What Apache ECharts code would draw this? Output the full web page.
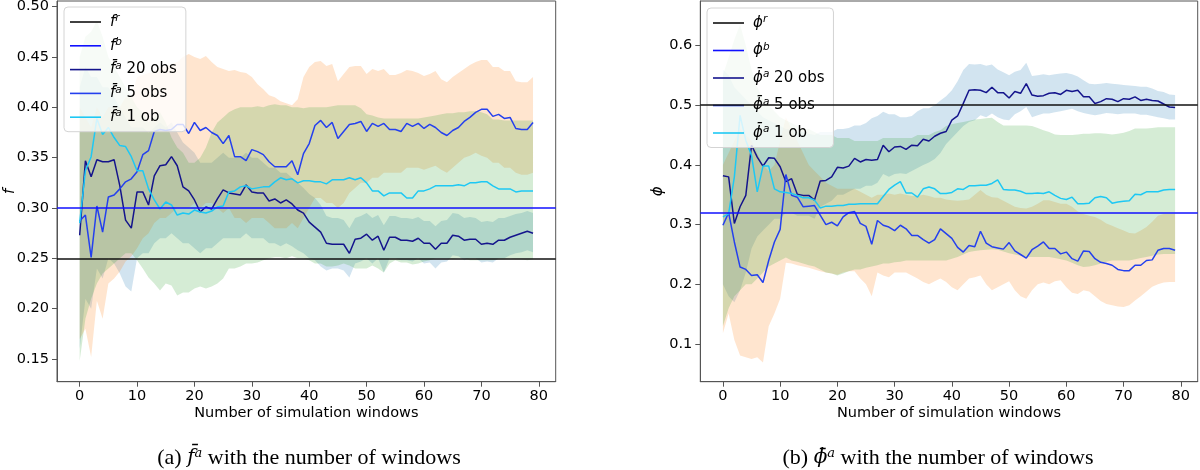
<!DOCTYPE html>
<html><head><meta charset="utf-8">
<script src="https://cdn.jsdelivr.net/npm/echarts@6/dist/echarts.min.js"></script>
<style>html,body{margin:0;padding:0;background:#fff}#c{width:1200px;height:470px}</style>
</head><body><div id="c"></div>
<script>
// ---------- tick labels ----------
const xTicks = [0, 10, 20, 30, 40, 50, 60, 70, 80];
const fTicks = [0.15, 0.20, 0.25, 0.30, 0.35, 0.40, 0.45, 0.50];
const phiTicks = [0.1, 0.2, 0.3, 0.4, 0.5, 0.6];

// ---------- reference values ----------
const fR = 0.25, fB = 0.296;
const phiR = 0.5, phiB = 0.317;

// ---------- panel (a): f ----------
const fA20 = [0.273,0.347,0.331,0.348,0.346,0.346,0.348,0.322,0.288,0.280,0.316,0.316,0.303,0.332,0.342,0.343,0.351,0.342,0.321,0.317,
0.308,0.296,0.301,0.299,0.309,0.318,0.315,0.314,0.313,0.323,0.316,0.315,0.315,0.307,0.309,0.305,0.308,0.304,0.298,0.295,
0.286,0.281,0.276,0.265,0.264,0.264,0.264,0.255,0.269,0.270,0.274,0.268,0.272,0.258,0.271,0.271,0.268,0.268,0.267,0.270,
0.265,0.265,0.259,0.265,0.265,0.273,0.272,0.268,0.269,0.269,0.264,0.265,0.264,0.268,0.268,0.271,0.273,0.275,0.277,0.275];
const fA5 = [0.287,0.293,0.251,0.302,0.276,0.311,0.313,0.319,0.326,0.329,0.336,0.353,0.357,0.376,0.378,0.377,0.378,0.383,0.383,0.374,
0.385,0.377,0.380,0.375,0.372,0.364,0.372,0.351,0.351,0.347,0.358,0.356,0.353,0.346,0.341,0.341,0.341,0.347,0.333,0.354,
0.364,0.382,0.387,0.380,0.385,0.369,0.376,0.383,0.384,0.386,0.376,0.384,0.381,0.384,0.378,0.378,0.376,0.384,0.381,0.384,
0.379,0.383,0.380,0.375,0.372,0.377,0.380,0.386,0.390,0.395,0.398,0.398,0.391,0.393,0.389,0.390,0.379,0.378,0.378,0.385];
const fA1 = [0.285,0.337,0.351,0.389,0.373,0.380,0.370,0.362,0.361,0.351,0.337,0.337,0.319,0.308,0.299,0.306,0.303,0.293,0.295,0.294,
0.298,0.296,0.295,0.297,0.301,0.302,0.316,0.317,0.321,0.322,0.319,0.320,0.321,0.321,0.326,0.330,0.328,0.329,0.325,0.327,
0.327,0.326,0.326,0.324,0.328,0.328,0.328,0.330,0.328,0.330,0.325,0.317,0.317,0.312,0.315,0.315,0.315,0.310,0.310,0.317,
0.317,0.319,0.322,0.322,0.322,0.322,0.323,0.322,0.325,0.325,0.326,0.326,0.322,0.319,0.319,0.319,0.316,0.317,0.317,0.317];
const fA20Hi = [0.42,0.44,0.43,0.43,0.42,0.42,0.41,0.40,0.39,0.38,0.38,0.38,0.375,0.38,0.385,0.38,0.385,0.375,0.365,0.36,
0.355,0.345,0.345,0.345,0.35,0.355,0.35,0.35,0.35,0.355,0.35,0.35,0.345,0.34,0.34,0.335,0.335,0.33,0.325,0.32,
0.314,0.31,0.303,0.292,0.29,0.29,0.288,0.28,0.29,0.292,0.295,0.29,0.293,0.283,0.292,0.292,0.29,0.29,0.289,0.291,
0.287,0.287,0.282,0.287,0.288,0.295,0.294,0.29,0.291,0.29,0.286,0.287,0.286,0.29,0.29,0.292,0.294,0.295,0.297,0.295];
const fA20Lo = [0.16,0.21,0.20,0.24,0.23,0.25,0.245,0.235,0.222,0.217,0.25,0.255,0.255,0.265,0.27,0.27,0.275,0.27,0.265,0.265,
0.26,0.255,0.26,0.26,0.265,0.27,0.27,0.27,0.27,0.275,0.27,0.27,0.27,0.265,0.265,0.262,0.265,0.262,0.258,0.255,
0.25,0.248,0.242,0.238,0.24,0.24,0.238,0.231,0.245,0.247,0.25,0.245,0.25,0.236,0.25,0.25,0.248,0.248,0.247,0.25,
0.245,0.246,0.24,0.246,0.247,0.253,0.252,0.248,0.25,0.25,0.246,0.247,0.246,0.25,0.25,0.253,0.255,0.256,0.258,0.256];
const fA5Hi = [0.40,0.39,0.38,0.40,0.39,0.40,0.40,0.40,0.41,0.41,0.43,0.432,0.434,0.436,0.44,0.44,0.443,0.445,0.45,0.453,
0.45,0.448,0.451,0.445,0.44,0.438,0.436,0.437,0.435,0.434,0.43,0.423,0.418,0.412,0.41,0.406,0.404,0.402,0.408,0.43,
0.44,0.445,0.446,0.441,0.443,0.426,0.433,0.44,0.441,0.441,0.433,0.438,0.436,0.438,0.432,0.432,0.434,0.437,0.436,0.434,
0.431,0.433,0.436,0.428,0.425,0.43,0.434,0.438,0.442,0.445,0.447,0.447,0.44,0.44,0.436,0.436,0.426,0.425,0.425,0.43];
const fA5Lo = [0.17,0.18,0.152,0.208,0.19,0.225,0.23,0.237,0.247,0.252,0.26,0.27,0.275,0.285,0.29,0.29,0.295,0.30,0.30,0.30,
0.305,0.30,0.305,0.305,0.30,0.295,0.30,0.29,0.29,0.285,0.29,0.29,0.29,0.285,0.28,0.28,0.28,0.285,0.28,0.29,
0.30,0.31,0.31,0.305,0.305,0.30,0.305,0.315,0.32,0.325,0.325,0.33,0.33,0.335,0.335,0.335,0.335,0.34,0.34,0.34,
0.338,0.34,0.342,0.338,0.335,0.34,0.345,0.35,0.352,0.355,0.352,0.35,0.345,0.345,0.34,0.34,0.335,0.333,0.333,0.335];
const fA1Hi = [0.45,0.47,0.475,0.486,0.47,0.45,0.44,0.43,0.42,0.41,0.40,0.395,0.385,0.39,0.395,0.385,0.37,0.36,0.355,0.345,
0.345,0.35,0.36,0.375,0.385,0.39,0.395,0.398,0.40,0.40,0.40,0.401,0.40,0.402,0.403,0.402,0.402,0.40,0.40,0.399,
0.40,0.40,0.40,0.40,0.401,0.402,0.402,0.402,0.402,0.399,0.393,0.392,0.39,0.389,0.389,0.389,0.389,0.389,0.389,0.389,
0.39,0.391,0.392,0.393,0.394,0.394,0.395,0.395,0.396,0.396,0.395,0.393,0.388,0.388,0.387,0.387,0.387,0.387,0.387,0.387];
const fA1Lo = [0.148,0.19,0.21,0.225,0.235,0.24,0.245,0.25,0.255,0.255,0.248,0.24,0.231,0.225,0.218,0.225,0.223,0.213,0.216,0.216,
0.22,0.222,0.22,0.222,0.225,0.23,0.24,0.24,0.242,0.245,0.245,0.246,0.248,0.25,0.251,0.251,0.25,0.252,0.25,0.25,
0.248,0.245,0.245,0.242,0.242,0.243,0.245,0.243,0.24,0.24,0.24,0.243,0.24,0.236,0.245,0.248,0.246,0.246,0.244,0.245,
0.247,0.248,0.25,0.25,0.25,0.249,0.25,0.25,0.248,0.248,0.248,0.248,0.248,0.249,0.249,0.25,0.249,0.249,0.248,0.249];

// ---------- panel (b): phi ----------
const pA20 = [0.382,0.380,0.302,0.330,0.349,0.433,0.413,0.398,0.412,0.411,0.397,0.372,0.377,0.351,0.349,0.349,0.341,0.373,0.374,0.380,
0.396,0.395,0.398,0.411,0.405,0.409,0.408,0.409,0.433,0.422,0.430,0.431,0.426,0.433,0.432,0.443,0.440,0.448,0.453,0.456,
0.475,0.482,0.503,0.525,0.526,0.525,0.521,0.530,0.521,0.521,0.512,0.523,0.520,0.536,0.517,0.515,0.516,0.520,0.521,0.518,
0.525,0.523,0.525,0.514,0.514,0.503,0.506,0.511,0.510,0.506,0.511,0.510,0.514,0.508,0.510,0.508,0.507,0.502,0.497,0.496];
const pA5 = [0.299,0.320,0.271,0.229,0.225,0.215,0.216,0.203,0.240,0.271,0.292,0.384,0.349,0.346,0.330,0.331,0.332,0.316,0.300,0.304,
0.298,0.313,0.320,0.322,0.302,0.297,0.267,0.307,0.299,0.296,0.290,0.299,0.293,0.282,0.282,0.275,0.269,0.275,0.293,0.285,
0.277,0.262,0.254,0.265,0.263,0.289,0.269,0.263,0.261,0.259,0.270,0.256,0.250,0.244,0.258,0.264,0.271,0.260,0.260,0.251,
0.254,0.243,0.239,0.256,0.255,0.243,0.237,0.235,0.232,0.225,0.223,0.223,0.232,0.232,0.240,0.241,0.257,0.260,0.260,0.257];
const pA1 = [0.313,0.318,0.380,0.483,0.441,0.416,0.355,0.398,0.398,0.360,0.355,0.354,0.352,0.349,0.345,0.345,0.341,0.328,0.331,0.331,
0.332,0.332,0.334,0.334,0.335,0.335,0.335,0.335,0.347,0.359,0.366,0.372,0.353,0.353,0.346,0.360,0.363,0.360,0.352,0.352,
0.354,0.360,0.359,0.365,0.365,0.366,0.366,0.369,0.375,0.359,0.358,0.358,0.356,0.352,0.352,0.353,0.352,0.355,0.349,0.344,
0.342,0.346,0.335,0.335,0.336,0.345,0.347,0.345,0.336,0.338,0.339,0.340,0.351,0.350,0.355,0.355,0.355,0.358,0.359,0.359];
const pA20Hi = [0.56,0.55,0.53,0.52,0.51,0.50,0.49,0.48,0.475,0.47,0.465,0.46,0.46,0.455,0.455,0.452,0.45,0.455,0.455,0.455,
0.46,0.46,0.462,0.466,0.466,0.47,0.478,0.482,0.489,0.485,0.485,0.48,0.48,0.482,0.49,0.495,0.495,0.50,0.508,0.515,
0.525,0.54,0.559,0.569,0.568,0.569,0.566,0.568,0.56,0.555,0.55,0.556,0.559,0.571,0.549,0.55,0.552,0.55,0.552,0.553,
0.554,0.552,0.548,0.542,0.536,0.535,0.536,0.537,0.536,0.535,0.534,0.533,0.532,0.531,0.531,0.528,0.524,0.522,0.518,0.517];
const pA20Lo = [0.20,0.18,0.17,0.19,0.22,0.26,0.28,0.29,0.30,0.31,0.31,0.32,0.32,0.315,0.315,0.315,0.31,0.33,0.335,0.34,
0.35,0.35,0.355,0.36,0.36,0.365,0.365,0.37,0.385,0.38,0.385,0.386,0.385,0.39,0.395,0.40,0.404,0.41,0.42,0.435,
0.445,0.455,0.465,0.472,0.475,0.483,0.48,0.486,0.48,0.476,0.475,0.485,0.49,0.497,0.48,0.483,0.486,0.486,0.488,0.49,
0.492,0.494,0.49,0.487,0.485,0.483,0.485,0.487,0.486,0.485,0.486,0.486,0.486,0.484,0.484,0.482,0.48,0.478,0.476,0.476];
const pA5Hi = [0.40,0.42,0.44,0.46,0.45,0.44,0.42,0.40,0.39,0.40,0.44,0.48,0.46,0.44,0.42,0.40,0.39,0.38,0.37,0.365,
0.36,0.36,0.36,0.36,0.355,0.35,0.345,0.35,0.35,0.352,0.35,0.352,0.35,0.348,0.348,0.35,0.348,0.345,0.345,0.342,
0.341,0.34,0.341,0.342,0.35,0.358,0.35,0.346,0.345,0.34,0.335,0.33,0.328,0.327,0.33,0.335,0.341,0.341,0.338,0.335,
0.335,0.33,0.322,0.318,0.315,0.313,0.308,0.302,0.298,0.294,0.29,0.286,0.285,0.29,0.296,0.305,0.315,0.318,0.318,0.318];
const pA5Lo = [0.118,0.151,0.107,0.081,0.078,0.075,0.078,0.069,0.13,0.151,0.176,0.236,0.235,0.232,0.23,0.228,0.225,0.222,0.22,0.218,
0.216,0.22,0.222,0.222,0.21,0.20,0.18,0.22,0.215,0.212,0.22,0.22,0.22,0.215,0.21,0.204,0.20,0.205,0.21,0.204,
0.195,0.19,0.20,0.21,0.212,0.215,0.20,0.19,0.195,0.20,0.205,0.19,0.18,0.176,0.19,0.20,0.203,0.20,0.205,0.207,
0.195,0.186,0.184,0.19,0.188,0.18,0.172,0.167,0.165,0.163,0.162,0.165,0.173,0.18,0.188,0.196,0.20,0.203,0.204,0.204];
const pA1Hi = [0.55,0.58,0.61,0.635,0.60,0.56,0.53,0.51,0.50,0.49,0.48,0.475,0.47,0.465,0.46,0.46,0.455,0.45,0.45,0.45,
0.445,0.445,0.445,0.44,0.44,0.44,0.44,0.44,0.445,0.445,0.445,0.445,0.445,0.445,0.45,0.45,0.45,0.455,0.458,0.465,
0.468,0.47,0.472,0.474,0.476,0.477,0.478,0.479,0.472,0.466,0.466,0.466,0.466,0.466,0.465,0.462,0.458,0.455,0.451,0.45,
0.45,0.45,0.451,0.452,0.452,0.453,0.453,0.452,0.451,0.452,0.454,0.457,0.461,0.461,0.461,0.462,0.463,0.463,0.463,0.463];
const pA1Lo = [0.13,0.16,0.18,0.19,0.20,0.20,0.21,0.22,0.23,0.235,0.24,0.245,0.24,0.238,0.235,0.232,0.23,0.225,0.22,0.218,
0.215,0.218,0.222,0.225,0.225,0.228,0.23,0.232,0.235,0.235,0.237,0.238,0.24,0.24,0.24,0.24,0.24,0.24,0.24,0.24,
0.243,0.246,0.25,0.254,0.256,0.257,0.258,0.259,0.258,0.255,0.252,0.25,0.248,0.246,0.246,0.246,0.246,0.246,0.244,0.242,
0.24,0.236,0.232,0.229,0.23,0.232,0.235,0.238,0.24,0.24,0.24,0.24,0.242,0.244,0.246,0.248,0.25,0.251,0.251,0.251];

// ---------- styles ----------
const C = {r:'#111111', b:'#1010ff', a20:'#14148c', a5:'#2440ee', a1:'#1ec8f4'};
const BAND = {c0:'rgba(31,119,180,0.2)', c1:'rgba(255,127,14,0.2)', c2:'rgba(44,160,44,0.2)'};
const FONT = 'DejaVu Sans';
const AXC = '#555';

function pairs(arr){ return arr.map((v,i)=>[i,v]); }
function band(g, lo, hi, color){
  return {type:'custom', xAxisIndex:g, yAxisIndex:g, silent:true, clip:true, z:1, data:[0],
    renderItem:function(params, api){
      const pts=[];
      for(let i=0;i<hi.length;i++) pts.push(api.coord([i,hi[i]]));
      for(let i=lo.length-1;i>=0;i--) pts.push(api.coord([i,lo[i]]));
      return {type:'polygon', shape:{points:pts}, style:{fill:color}};
    }};
}
function line(g, name, arr, color){
  return {type:'line', name:name, xAxisIndex:g, yAxisIndex:g, data:pairs(arr), symbol:'none', z:3,
    color:color, lineStyle:{color:color, width:1.5}};
}
function hline(g, name, val, color){
  return {type:'line', name:name, xAxisIndex:g, yAxisIndex:g, data:[], symbol:'none', z:4,
    color:color, lineStyle:{color:color, width:1.5},
    markLine:{symbol:'none', silent:true, label:{show:false}, animation:false,
      lineStyle:{color:color, width:1.5, type:'solid'}, data:[{yAxis:val}]}};
}
function xAx(g){
  return {type:'value', gridIndex:g, min:-3.95, max:82.95,
    name:'Number of simulation windows', nameLocation:'middle', nameGap:24, nameMoveOverlap:false,
    nameTextStyle:{fontFamily:FONT, fontSize:14.5, color:'#000'},
    axisLine:{onZero:false, lineStyle:{color:AXC, width:1}},
    axisTick:{customValues:xTicks, length:5, lineStyle:{color:AXC}},
    axisLabel:{customValues:xTicks, fontFamily:FONT, fontSize:14.5, color:'#000', margin:7},
    splitLine:{show:false}};
}
function yAx(g, min, max, ticks, dec, name, gap){
  return {type:'value', gridIndex:g, min:min, max:max,
    name:name, nameLocation:'middle', nameGap:gap, nameRotate:90, nameMoveOverlap:false,
    nameTextStyle:{fontFamily:FONT, fontSize:15, fontStyle:'italic', color:'#000'},
    axisLine:{show:true, onZero:false, lineStyle:{color:AXC, width:1}},
    axisTick:{show:true, customValues:ticks, length:5, lineStyle:{color:AXC}},
    axisLabel:{customValues:ticks, fontFamily:FONT, fontSize:14.5, color:'#000', margin:8,
      formatter:v=>Number(v).toFixed(dec)},
    splitLine:{show:false}};
}
const rich = {
  i:{fontFamily:FONT, fontStyle:'italic', fontSize:15, color:'#000', lineHeight:18},
  s:{fontFamily:FONT, fontStyle:'italic', fontSize:10.5, color:'#000', verticalAlign:'top', lineHeight:10},
  t:{fontFamily:FONT, fontSize:15, color:'#000', lineHeight:18}
};
const LAB = {
  fr:'{i|f}{s|r}', fb:'{i|f}{s|b}', fa20:'{i|f\u0304}{s|a}{t| 20 obs}', fa5:'{i|f\u0304}{s|a}{t| 5 obs}', fa1:'{i|f\u0304}{s|a}{t| 1 ob}',
  pr:'{i|\u03d5}{s|r}', pb:'{i|\u03d5}{s|b}', pa20:'{i|\u03d5\u0304}{s|a}{t| 20 obs}', pa5:'{i|\u03d5\u0304}{s|a}{t| 5 obs}', pa1:'{i|\u03d5\u0304}{s|a}{t| 1 ob}'
};
function legend(left, top, names, gap){
  return {orient:'vertical', left:left, top:top, data:names, icon:'rect', itemWidth:31, itemHeight:1.6, itemGap:gap,
    backgroundColor:'rgba(255,255,255,0.8)', borderColor:'#d4d4d4', borderWidth:1, borderRadius:4,
    padding:[6,9,7,6], formatter:n=>LAB[n], textStyle:{rich:rich, padding:[0,0,0,4]}, selectedMode:false};
}
const capRich = {
  n:{fontFamily:'Liberation Serif', fontSize:22, color:'#000'},
  i:{fontFamily:'DejaVu Serif', fontStyle:'italic', fontSize:20, color:'#000'},
  s:{fontFamily:'DejaVu Serif', fontStyle:'italic', fontSize:13, color:'#000', verticalAlign:'top', lineHeight:12}
};

const chart = echarts.init(document.getElementById('c'), null, {renderer:'canvas'});
chart.setOption({
  animation:false,
  backgroundColor:'#fff',
  grid:[
    {left:57, top:1, width:498.7, height:380.7, show:true, borderColor:AXC, borderWidth:1, backgroundColor:'transparent', containLabel:false, outerBoundsMode:'none'},
    {left:700.3, top:1, width:497.4, height:380.7, show:true, borderColor:AXC, borderWidth:1, backgroundColor:'transparent', containLabel:false, outerBoundsMode:'none'}
  ],
  xAxis:[xAx(0), xAx(1)],
  yAxis:[yAx(0, 0.1275, 0.5056, fTicks, 2, 'f', 39), yAx(1, 0.037, 0.6745, phiTicks, 1, '\u03d5', 35)],
  legend:[legend(64, 7, ['fr','fb','fa20','fa5','fa1'], 7.3), legend(707, 8, ['pr','pb','pa20','pa5','pa1'], 11)],
  series:[
    band(0, fA20Lo, fA20Hi, BAND.c0), band(0, fA5Lo, fA5Hi, BAND.c1), band(0, fA1Lo, fA1Hi, BAND.c2),
    hline(0,'fr',fR,C.r), hline(0,'fb',fB,C.b),
    line(0,'fa20',fA20,C.a20), line(0,'fa5',fA5,C.a5), line(0,'fa1',fA1,C.a1),
    band(1, pA20Lo, pA20Hi, BAND.c0), band(1, pA5Lo, pA5Hi, BAND.c1), band(1, pA1Lo, pA1Hi, BAND.c2),
    hline(1,'pr',phiR,C.r), hline(1,'pb',phiB,C.b),
    line(1,'pa20',pA20,C.a20), line(1,'pa5',pA5,C.a5), line(1,'pa1',pA1,C.a1)
  ],
  graphic:[
    {type:'text', x:309, y:458, style:{text:'{n|(a) }{i|f\u0304}{s|a}{n| with the number of windows}', rich:capRich, align:'center', verticalAlign:'middle'}},
    {type:'text', x:938, y:458, style:{text:'{n|(b) }{i|\u03d5\u0304}{s|a}{n| with the number of windows}', rich:capRich, align:'center', verticalAlign:'middle'}}
  ]
});
</script></body></html>
